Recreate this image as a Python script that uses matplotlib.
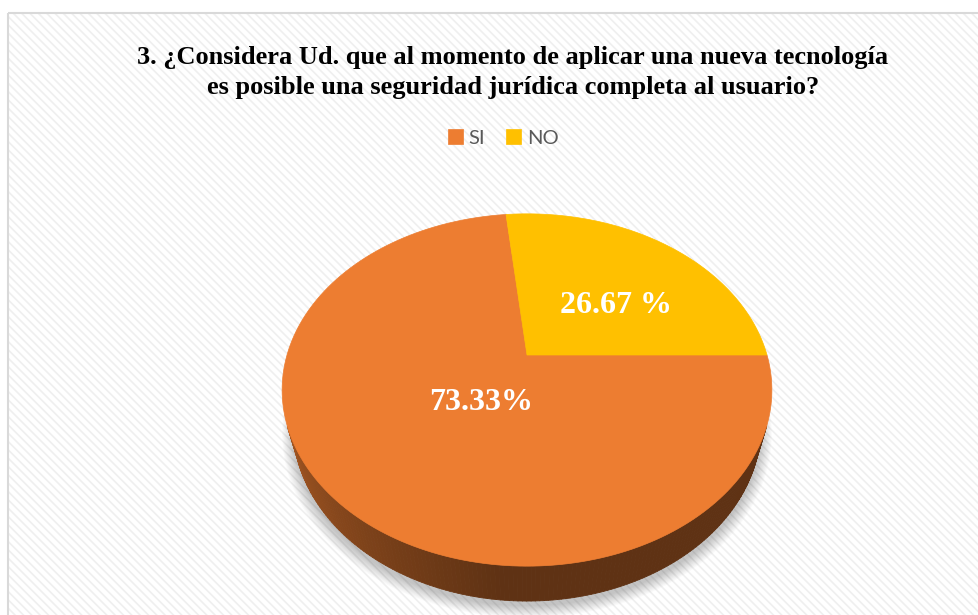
"""
3D-style pie chart: seguridad jurídica al aplicar nueva tecnología.
"""

import numpy as np
import matplotlib.pyplot as plt
from matplotlib.patches import Rectangle, Polygon
from matplotlib.collections import PolyCollection
import matplotlib.colors as mcolors

# Data
categories = ['SI', 'NO']
values = [73.33, 26.67]
value_labels = ['73.33%', '26.67 %']
colors = ['#ED7D31', '#FFC000']
title = ('3. ¿Considera Ud. que al momento de aplicar una nueva tecnología\n'
         'es posible una seguridad jurídica completa al usuario?')

# Layout of the fake 3D pie (pixel space)
W, H = 979, 615
CX, CY, R = 527, 355, 240
SIN_EL = 0.705
COS_EL = np.sqrt(1 - SIN_EL ** 2)
DIST = 3.57        # camera distance, in radius units
THICK = 0.23       # disk thickness, in radius units
# label anchors as (angle in degrees, radius fraction)
label_anchor = [(235.6, 0.32), (38.0, 0.50)]


def project(t, r=1.0, z=0.0):
    """Project a point of the disk (angle t, radius r, height z) to pixels."""
    X = r * np.cos(t)
    Y = r * np.sin(t)
    yp = Y * SIN_EL + z * COS_EL
    depth = Y * COS_EL - z * SIN_EL
    k = DIST / (DIST + depth)
    return CX + R * X * k, CY - R * yp * k


def side_visible(t):
    # camera sits at (0, -DIST*cos, DIST*sin) in disk coordinates
    return -1 - DIST * COS_EL * np.sin(t) > 0


fig = plt.figure(figsize=(W / 100, H / 100), dpi=100)
fig.patch.set_facecolor('white')
ax = fig.add_axes([0, 0, 1, 1])
ax.set_xlim(0, W)
ax.set_ylim(H, 0)
ax.axis('off')

# chart area: striped background and thin border
plt.rcParams['hatch.linewidth'] = 1.2
ax.add_patch(Rectangle((8.5, 12.5), W + 20, H + 20, facecolor='white',
                       edgecolor='#EFEFEF', hatch='\\\\\\\\', lw=0, zorder=0))
ax.add_patch(Rectangle((8.5, 12.5), W + 20, H + 20, facecolor='none',
                       edgecolor='#D9D9D9', lw=1.5, zorder=1))

# slice angles: start at 3 o'clock, run clockwise
fractions = np.array(values) / np.sum(values)
bounds = -2 * np.pi * np.concatenate([[0], np.cumsum(fractions)])

# soft shadow under the disk
tt = np.linspace(0, 2 * np.pi, 200)
for s in np.linspace(1.045, 1.0, 12):
    bx, by = project(tt, r=s, z=-THICK)
    ax.add_patch(Polygon(np.column_stack([bx, by + 5]), closed=True,
                         facecolor='black', edgecolor='none', alpha=0.02, zorder=2))

# outer walls (only the parts facing the camera)
for i in range(len(values)):
    a0, a1 = bounds[i], bounds[i + 1]
    ts = np.linspace(a0, a1, 300)
    base = np.array(mcolors.to_rgb(colors[i]))
    quads, fcs = [], []
    for ta, tb in zip(ts[:-1], ts[1:]):
        tm = 0.5 * (ta + tb)
        if not side_visible(tm):
            continue
        x0, y0 = project(ta)
        x1, y1 = project(tb)
        x2, y2 = project(tb, z=-THICK)
        x3, y3 = project(ta, z=-THICK)
        quads.append([(x0, y0), (x1, y1), (x2, y2), (x3, y3)])
        deg = np.degrees(tm) % 360
        shade = np.interp(deg, [200, 265, 340], [0.68, 0.40, 0.40])
        fcs.append(tuple(base * shade))
    if quads:
        ax.add_collection(PolyCollection(quads, facecolors=fcs, edgecolors=fcs,
                                         linewidths=0.6, zorder=3))

# top faces
tops = []
for i, cat in enumerate(categories):
    ts = np.linspace(bounds[i], bounds[i + 1], 200)
    px, py = project(ts)
    pts = np.vstack([[CX, CY], np.column_stack([px, py])])
    poly = Polygon(pts, closed=True, facecolor=colors[i], edgecolor=colors[i],
                   lw=0.5, zorder=4, label=cat)
    ax.add_patch(poly)
    tops.append(poly)

# value labels
for (ang, rf), txt in zip(label_anchor, value_labels):
    lx, ly = project(np.radians(ang), r=rf)
    ax.text(lx, ly, txt, ha='center', va='center', color='white',
            fontsize=23, fontweight='bold', family='Liberation Serif', zorder=5)

ax.text(513, 46, title, ha='center', va='top', fontsize=19, fontweight='bold',
        family='Liberation Serif', color='black', linespacing=1.38, zorder=5)

leg = ax.legend(handles=tops, labels=categories, loc='center',
                bbox_to_anchor=(503 / W, 1 - 138 / H), bbox_transform=fig.transFigure,
                ncol=2, frameon=False, prop={'family': 'Lato', 'size': 14.5},
                handlelength=0.75, handleheight=0.7, handletextpad=0.3,
                columnspacing=1.0, borderpad=0)
for t in leg.get_texts():
    t.set_color('#595959')

fig.savefig('out.png', dpi=100)
